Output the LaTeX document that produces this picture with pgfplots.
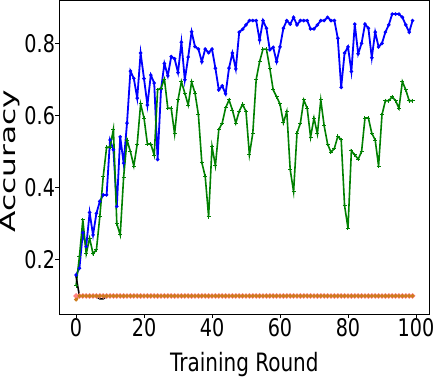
\documentclass[border=0pt]{standalone}
\usepackage{pgfplots}
\pgfplotsset{compat=1.18}
\usepackage{pgfplotstable}
\usepackage{graphicx}
\usepackage{fontspec}
\setmainfont{DejaVu Sans}
\newfontfamily\condfont{DejaVu Sans}[FakeStretch=0.79]
\definecolor{mblue}{RGB}{0,0,255}
\definecolor{mgreen}{RGB}{0,128,0}
\definecolor{morange}{RGB}{205,125,30}
\definecolor{mred}{RGB}{255,130,130}

\pgfplotstableread{
x blue green black red orange
0 0.158 0.128 0.155 0.100 0.090
1 0.177 0.209 0.100 0.100 0.100
2 0.275 0.311 0.100 0.100 0.100
3 0.237 0.217 0.100 0.100 0.100
4 0.331 0.260 0.100 0.100 0.100
5 0.269 0.217 0.100 0.100 0.100
6 0.329 0.228 0.098 0.100 0.100
7 0.362 0.320 0.092 0.100 0.100
8 0.380 0.431 0.092 0.100 0.100
9 0.380 0.512 0.099 0.100 0.100
10 0.532 0.512 0.100 0.100 0.100
11 0.505 0.562 0.100 0.100 0.100
12 0.348 0.300 0.100 0.100 0.100
13 0.541 0.269 0.100 0.100 0.100
14 0.468 0.429 0.100 0.100 0.100
15 0.579 0.532 0.100 0.100 0.100
16 0.723 0.500 0.100 0.100 0.100
17 0.703 0.460 0.100 0.100 0.100
18 0.648 0.521 0.100 0.100 0.100
19 0.773 0.632 0.100 0.100 0.100
20 0.702 0.593 0.100 0.100 0.100
21 0.629 0.521 0.100 0.100 0.100
22 0.712 0.521 0.100 0.100 0.100
23 0.690 0.490 0.100 0.100 0.100
24 0.478 0.671 0.100 0.100 0.100
25 0.672 0.676 0.100 0.100 0.100
26 0.744 0.701 0.100 0.100 0.100
27 0.710 0.620 0.100 0.100 0.100
28 0.763 0.620 0.100 0.100 0.100
29 0.757 0.549 0.100 0.100 0.100
30 0.719 0.643 0.100 0.100 0.100
31 0.803 0.694 0.100 0.100 0.100
32 0.699 0.662 0.100 0.100 0.100
33 0.762 0.629 0.100 0.100 0.100
34 0.832 0.693 0.100 0.100 0.100
35 0.791 0.662 0.100 0.100 0.100
36 0.784 0.602 0.100 0.100 0.100
37 0.749 0.470 0.100 0.100 0.100
38 0.784 0.431 0.100 0.100 0.100
39 0.774 0.320 0.100 0.100 0.100
40 0.784 0.514 0.100 0.100 0.100
41 0.731 0.461 0.100 0.100 0.100
42 0.671 0.561 0.100 0.100 0.100
43 0.682 0.579 0.100 0.100 0.100
44 0.660 0.621 0.100 0.100 0.100
45 0.731 0.643 0.100 0.100 0.100
46 0.773 0.615 0.100 0.100 0.100
47 0.729 0.579 0.100 0.100 0.100
48 0.831 0.612 0.100 0.100 0.100
49 0.839 0.631 0.100 0.100 0.100
50 0.851 0.611 0.100 0.100 0.100
51 0.863 0.491 0.100 0.100 0.100
52 0.863 0.551 0.100 0.100 0.100
53 0.863 0.700 0.100 0.100 0.100
54 0.809 0.749 0.100 0.100 0.100
55 0.863 0.784 0.100 0.100 0.100
56 0.842 0.784 0.100 0.100 0.100
57 0.782 0.731 0.100 0.100 0.100
58 0.789 0.671 0.100 0.100 0.100
59 0.749 0.652 0.100 0.100 0.100
60 0.790 0.632 0.100 0.100 0.100
61 0.842 0.580 0.100 0.100 0.100
62 0.863 0.611 0.100 0.100 0.100
63 0.853 0.450 0.100 0.100 0.100
64 0.872 0.389 0.100 0.100 0.100
65 0.851 0.551 0.100 0.100 0.100
66 0.863 0.579 0.100 0.100 0.100
67 0.863 0.643 0.100 0.100 0.100
68 0.863 0.620 0.100 0.100 0.100
69 0.840 0.540 0.100 0.100 0.100
70 0.840 0.593 0.100 0.100 0.100
71 0.851 0.549 0.100 0.100 0.100
72 0.863 0.643 0.100 0.100 0.100
73 0.863 0.571 0.100 0.100 0.100
74 0.872 0.521 0.100 0.100 0.100
75 0.863 0.498 0.100 0.100 0.100
76 0.863 0.509 0.100 0.100 0.100
77 0.814 0.542 0.100 0.100 0.100
78 0.678 0.533 0.100 0.100 0.100
79 0.773 0.350 0.100 0.100 0.100
80 0.790 0.288 0.100 0.100 0.100
81 0.722 0.502 0.100 0.100 0.100
82 0.853 0.491 0.100 0.100 0.100
83 0.771 0.479 0.100 0.100 0.100
84 0.800 0.500 0.100 0.100 0.100
85 0.853 0.593 0.100 0.100 0.100
86 0.842 0.593 0.100 0.100 0.100
87 0.760 0.551 0.100 0.100 0.100
88 0.831 0.532 0.100 0.100 0.100
89 0.790 0.460 0.100 0.100 0.100
90 0.800 0.602 0.100 0.100 0.100
91 0.831 0.641 0.100 0.100 0.100
92 0.851 0.641 0.100 0.100 0.100
93 0.881 0.652 0.100 0.100 0.100
94 0.881 0.641 0.100 0.100 0.100
95 0.881 0.620 0.100 0.100 0.100
96 0.872 0.694 0.100 0.100 0.100
97 0.851 0.671 0.100 0.100 0.100
98 0.831 0.641 0.100 0.100 0.100
99 0.863 0.641 0.100 0.100 0.100
}\data

\begin{document}
\begin{tikzpicture}
\begin{axis}[
  scale only axis, width=370.2pt, height=314pt,
  xmin=-4.95, xmax=103.95, ymin=0.05, ymax=0.92,
  xtick={0,20,40,60,80,100}, ytick={0.2,0.4,0.6,0.8},
  yticklabel style={/pgf/number format/fixed, /pgf/number format/precision=1, /pgf/number format/fixed zerofill},
  /pgf/number format/assume math mode=true,
  tick align=outside, xtick pos=left, ytick pos=left, major tick length=4pt,
  tick style={black, line width=0.8pt},
  axis line style={black, line width=0.8pt},
  ticklabel style={font=\condfont\fontsize{24.3}{24.3}\selectfont, inner sep=0pt},
  xticklabel style={anchor=north},
  yticklabel style={anchor=east},
  xlabel={Training Round},
  xlabel style={font=\condfont\fontsize{25.3}{25.3}\selectfont, at={(axis description cs:0.5,-0.18376)}, anchor=base, inner sep=0pt},
  ylabel={\scalebox{1}[0.68]{Accuracy}},
  ylabel style={font=\fontsize{31.2}{31.2}\selectfont, at={(axis description cs:-0.1172,0.486)}, anchor=base, inner sep=0pt},
]
\addplot[mblue, line width=1.8pt, mark=*, mark size=0.7pt] table[x=x, y=blue]{\data};
\addplot[mgreen, line width=1.6pt, mark=+, mark size=2pt, mark options={line width=1pt}] table[x=x, y=green]{\data};
\addplot[black, line width=1.6pt] table[x=x, y=black]{\data};
\addplot[mred, line width=2.6pt, mark=*, mark size=1.1pt] table[x=x, y=red]{\data};
\addplot[morange, line width=1.8pt, mark=*, mark size=0.9pt] table[x=x, y=orange]{\data};
\end{axis}
\pgfresetboundingbox
\path[use as bounding box] ([shift={(-59.2pt,-67pt)}]current axis.south west) rectangle ++(436pt,381pt);
\end{tikzpicture}
\end{document}
